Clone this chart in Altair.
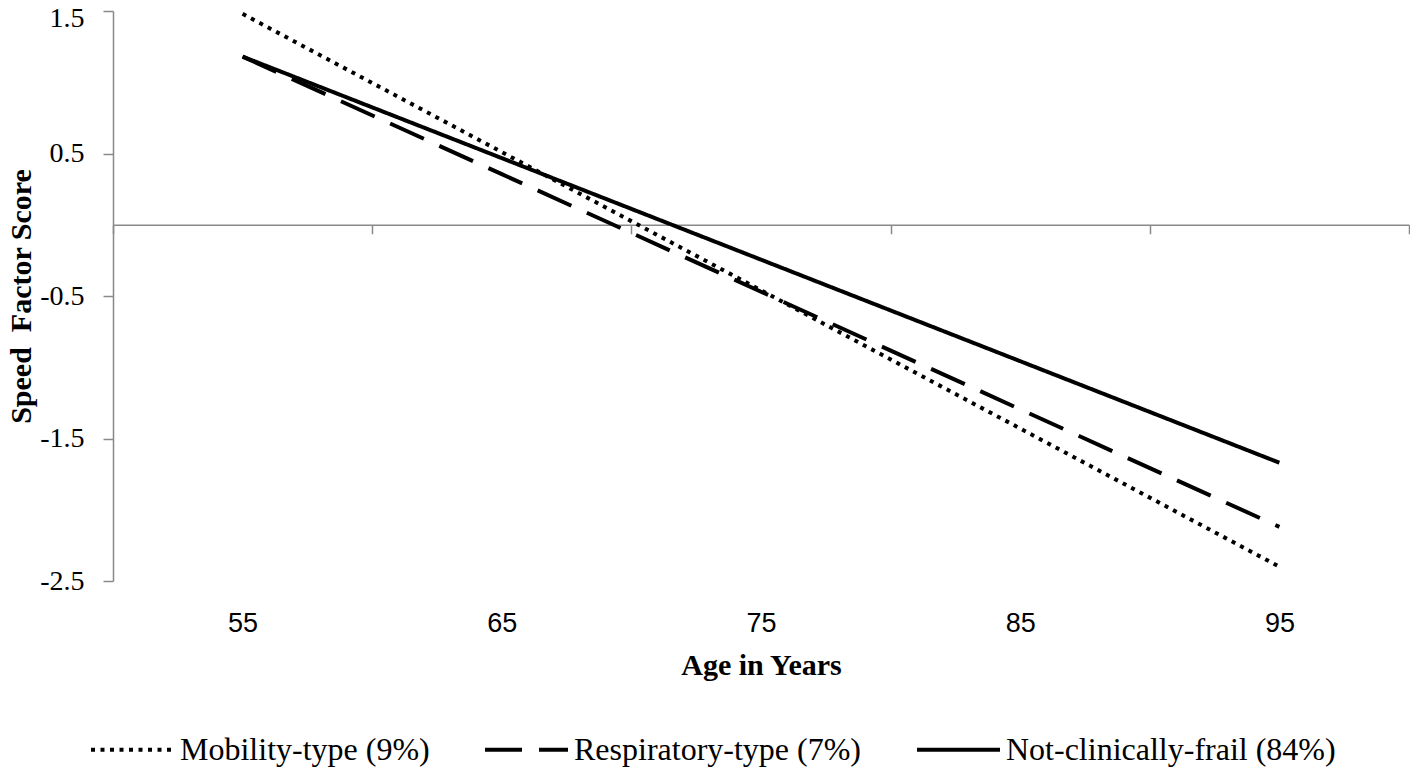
import altair as alt
import pandas as pd

# ---- data ----
ages = [55, 65, 75, 85, 95]
mobility = [1.48, 0.51, -0.46, -1.43, -2.40]
respiratory = [1.18, 0.355, -0.47, -1.295, -2.12]
not_frail = [1.18, 0.4675, -0.245, -0.9575, -1.67]
series_names = ["Mobility-type (9%)", "Respiratory-type (7%)", "Not-clinically-frail (84%)"]
y_ticks = [-2.5, -1.5, -0.5, 0.5, 1.5]
x_boundaries = [50, 60, 70, 80, 90, 100]

# ---- styles ----
dash_patterns = [[4, 5.5], [37, 17], [1, 0]]
GREY = "#898989"
SERIF = "Liberation Serif"
SANS = "Liberation Sans"
W, H = 1296, 570
Y_MIN, Y_MAX = -2.5, 1.5

rows = []
for name, vals in zip(series_names, [mobility, respiratory, not_frail]):
    for a, v in zip(ages, vals):
        rows.append({"age": a, "value": v, "series": name})
df = pd.DataFrame(rows)

x_scale = alt.Scale(domain=[50, 100], nice=False, zero=False)
y_scale = alt.Scale(domain=[Y_MIN, Y_MAX], nice=False, zero=False)

# offset that moves the second x axis up to the y = 0 line
zero_offset = -(H - H * (Y_MAX - 0) / (Y_MAX - Y_MIN))

zero_axis = alt.Chart(df).mark_point(opacity=0).encode(
    x=alt.X("age:Q", scale=x_scale,
            axis=alt.Axis(orient="bottom", offset=zero_offset, values=x_boundaries,
                          labels=False, title=None, grid=False,
                          domainColor=GREY, domainWidth=1.5,
                          tickColor=GREY, tickWidth=1.5, tickSize=9)),
)

lines = alt.Chart(df).mark_line(strokeWidth=4, color="black", strokeCap="butt").encode(
    x=alt.X("age:Q", scale=x_scale,
            axis=alt.Axis(orient="bottom", values=ages, title="Age in Years",
                          ticks=False, tickSize=0, domain=False, grid=False,
                          labelFont=SANS, labelFontSize=27, labelPadding=29,
                          labelColor="black",
                          titleFont=SERIF, titleFontSize=30, titleFontWeight="bold",
                          titleColor="black", titleBaseline="alphabetic", titleY=93)),
    y=alt.Y("value:Q", scale=y_scale,
            axis=alt.Axis(values=y_ticks, title="Speed\u00a0 Factor Score", grid=False,
                          domainColor=GREY, domainWidth=1.5,
                          tickColor=GREY, tickWidth=1.5, tickSize=10,
                          labelPadding=19, labelFont=SERIF, labelFontSize=28,
                          labelColor="black",
                          labelOffset={"condition": {"test": "datum.value === 1.5", "value": 7}, "value": 0},
                          labelExpr="datum.value < 0 ? '-' + format(-datum.value, '.1f') : format(datum.value, '.1f')",
                          titleFont=SERIF, titleFontSize=30, titleFontWeight="bold",
                          titleColor="black", titleBaseline="alphabetic", titleX=-83)),
    strokeDash=alt.StrokeDash(
        "series:N",
        scale=alt.Scale(domain=series_names, range=dash_patterns),
        legend=alt.Legend(orient="none", legendX=-24, legendY=695,
                          direction="horizontal", columns=3, title=None,
                          symbolType="stroke", symbolSize=6889, symbolStrokeWidth=4,
                          symbolStrokeColor="black",
                          labelFont=SERIF, labelFontSize=32, labelColor="black",
                          labelLimit=0, labelOffset=4, columnPadding=47, padding=0),
    ),
)

chart = alt.layer(zero_axis, lines).resolve_axis(x="independent").properties(
    width=W, height=H,
    autosize=alt.AutoSizeParams(type="none"),
    padding={"left": 105, "top": 3, "right": 1, "bottom": 186},
    background="white",
).configure_view(stroke=None)

chart.save("out.html", embed_options={"renderer": "svg", "actions": False})
